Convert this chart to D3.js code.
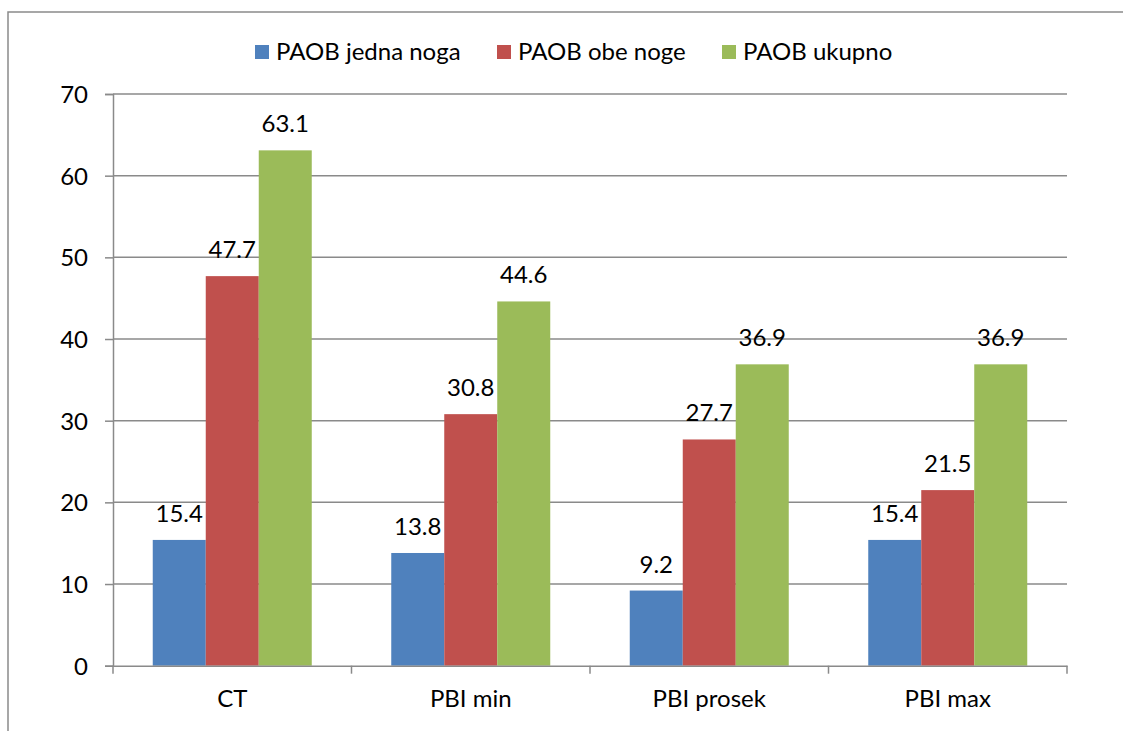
<!DOCTYPE html>
<html>
<head>
<meta charset="utf-8">
<script src="https://cdn.jsdelivr.net/npm/d3@7"></script>
<style>
  body { margin: 0; background: #fff; }
  svg text { font-family: Lato, "Open Sans", sans-serif; fill: #000; }
</style>
</head>
<body>
<svg id="chart" width="1123" height="731"></svg>
<script>
// data
var categories = ["CT", "PBI min", "PBI prosek", "PBI max"]
var seriesNames = ["PAOB jedna noga", "PAOB obe noge", "PAOB ukupno"]
var jednaNoga = [15.4, 13.8, 9.2, 15.4]
var obeNoge = [47.7, 30.8, 27.7, 21.5]
var ukupno = [63.1, 44.6, 36.9, 36.9]
var yTicks = [0, 10, 20, 30, 40, 50, 60, 70]
var colors = ["#4F81BD", "#C0504D", "#9BBB59"]

var seriesValues = [jednaNoga, obeNoge, ukupno]

var svg = d3.select("#chart")
var gridColor = "#8a8a8a"
var fontSize = 24

// outer chart frame (runs off the right and bottom of the picture)
svg.append("rect")
    .attr("x", 8).attr("y", 12)
    .attr("width", 1300).attr("height", 900)
    .attr("fill", "none")
    .attr("stroke", gridColor)
    .attr("stroke-width", 1.5)

var plotLeft = 113, plotRight = 1067, plotTop = 94, plotBottom = 665.7

var x = d3.scaleBand().domain(categories).range([plotLeft, plotRight])
var xInner = d3.scaleBand().domain(d3.range(3))
    .range([0, x.bandwidth()])
    .paddingInner(0).paddingOuter(0.75)
var y = d3.scaleLinear().domain([0, 70]).range([plotBottom, plotTop])

// gridlines
svg.append("g")
    .selectAll("line")
    .data(yTicks.slice(1))
    .enter()
    .append("line")
    .attr("x1", plotLeft).attr("x2", plotRight)
    .attr("y1", d => y(d)).attr("y2", d => y(d))
    .attr("stroke", gridColor)
    .attr("stroke-width", 1.5)

// y axis
var yAxis = svg.append("g")
    .attr("transform", "translate(" + plotLeft + ",0)")
    .call(d3.axisLeft(y).tickValues(yTicks).tickSize(8).tickPadding(17).tickFormat(d3.format("d")))
yAxis.select(".domain").attr("stroke", gridColor).attr("stroke-width", 1.5)
yAxis.selectAll(".tick line").attr("stroke", gridColor).attr("stroke-width", 1.5)
yAxis.selectAll(".tick text")
    .attr("font-size", fontSize)
    .attr("font-family", "Lato, sans-serif")
    .attr("fill", "#000")
    .attr("dy", "0.36em")

// bars
var groups = svg.append("g")
    .selectAll("g")
    .data(categories)
    .enter()
    .append("g")
    .attr("transform", d => "translate(" + x(d) + ",0)")

groups.selectAll("rect")
    .data((d, i) => seriesValues.map((s, k) => ({k: k, v: s[i]})))
    .enter()
    .append("rect")
    .attr("x", d => xInner(d.k))
    .attr("width", xInner.bandwidth())
    .attr("y", d => y(d.v))
    .attr("height", d => y(0) - y(d.v))
    .attr("fill", d => colors[d.k])

// value labels
groups.selectAll("text")
    .data((d, i) => seriesValues.map((s, k) => ({k: k, v: s[i]})))
    .enter()
    .append("text")
    .attr("x", d => xInner(d.k) + xInner.bandwidth() / 2)
    .attr("y", d => y(d.v) - 18)
    .attr("text-anchor", "middle")
    .attr("font-size", fontSize)
    .text(d => d3.format(".1f")(d.v))

// x axis
var xAxis = svg.append("g")
    .attr("transform", "translate(0," + plotBottom + ")")
    .call(d3.axisBottom(x).tickSize(0).tickPadding(24))
xAxis.select(".domain").attr("stroke", gridColor).attr("stroke-width", 1.5)
xAxis.selectAll(".tick text")
    .attr("font-size", fontSize)
    .attr("font-family", "Lato, sans-serif")
    .attr("fill", "#000")

// category separator ticks
svg.append("g")
    .selectAll("line")
    .data(categories.concat(["end"]))
    .enter()
    .append("line")
    .attr("x1", (d, i) => i < categories.length ? x(d) : plotRight)
    .attr("x2", (d, i) => i < categories.length ? x(d) : plotRight)
    .attr("y1", plotBottom).attr("y2", plotBottom + 8)
    .attr("stroke", gridColor)
    .attr("stroke-width", 1.5)

// legend
var legendX = [255, 497, 722]
var legend = svg.append("g")
    .selectAll("g")
    .data(seriesNames)
    .enter()
    .append("g")
    .attr("transform", (d, i) => "translate(" + legendX[i] + ",45)")
legend.append("rect")
    .attr("width", 14).attr("height", 14)
    .attr("fill", (d, i) => colors[i])
legend.append("text")
    .attr("x", 21).attr("y", 15)
    .attr("font-size", fontSize)
    .text(d => d)
</script>
</body>
</html>
